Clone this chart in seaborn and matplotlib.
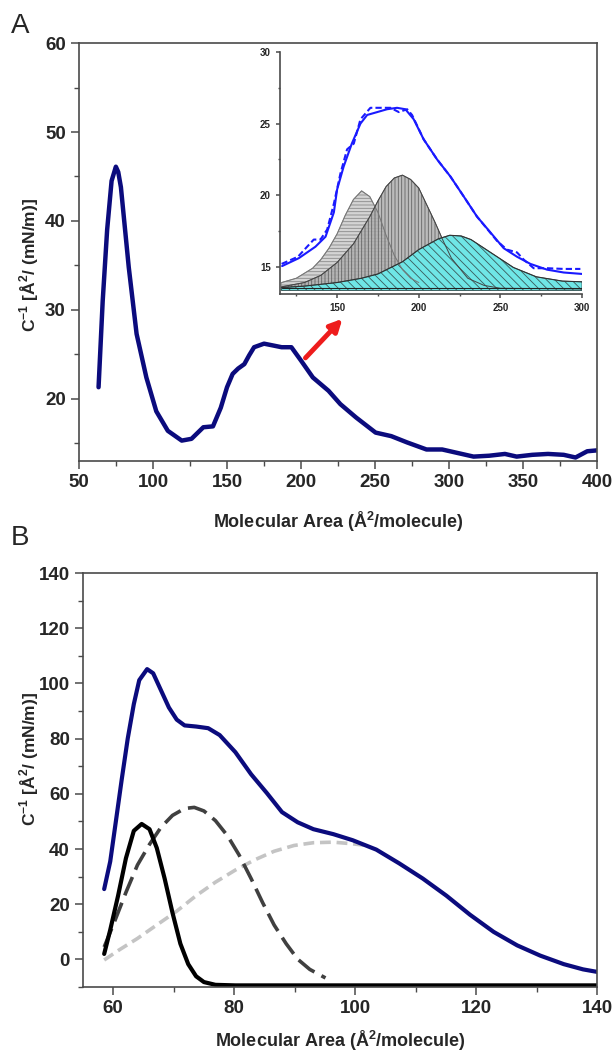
import matplotlib
matplotlib.use('Agg')
import matplotlib.pyplot as plt
from matplotlib.ticker import MultipleLocator
import seaborn as sns

sns.set_style('ticks')
plt.rcParams['font.family'] = ['Liberation Sans', 'DejaVu Sans']
plt.rcParams['mathtext.fontset'] = 'custom'
plt.rcParams['mathtext.rm'] = 'Liberation Sans'
plt.rcParams['mathtext.bf'] = 'Liberation Sans:bold'
plt.rcParams['hatch.linewidth'] = 0.6

# panel A - compressibility modulus vs area
area_a = [63.2, 66, 69, 72, 74.9, 76.5, 78.3, 83.6, 88.9, 95.5, 102.2, 110, 119.4, 126, 134,
          140.5, 145.8, 150, 153.8, 157.5, 161.7, 165, 168.3, 175, 181, 186.9, 193.5, 200,
          208, 218.6, 226.6, 237.2, 250.4, 261, 271.6, 284.8, 295.4, 306, 316.6, 327.2,
          337.8, 345.7, 356.3, 366.9, 377.5, 385.5, 393.4, 400]
cinv_a = [21.3, 31.0, 39.0, 44.5, 46.1, 45.5, 43.8, 34.8, 27.3, 22.4, 18.6, 16.4, 15.3, 15.5,
          16.8, 16.9, 19.0, 21.3, 22.8, 23.4, 23.9, 24.9, 25.8, 26.2, 26.0, 25.8, 25.8, 24.3,
          22.4, 20.9, 19.4, 17.9, 16.2, 15.8, 15.1, 14.3, 14.3, 13.9, 13.5, 13.6,
          13.8, 13.5, 13.7, 13.8, 13.7, 13.4, 14.1, 14.2]

# inset - deconvolution of the 150-300 region
fit_x = [116.3, 126.5, 136.7, 142.9, 148, 150, 154, 159, 164.3, 168.4, 174.5, 180.6, 186.7,
         191.8, 196.9, 203, 211.2, 219.4, 227.6, 235.7, 243.9, 252, 260.2, 268.4, 278.6,
         288.8, 300]
fit_y = [15.05, 15.6, 16.4, 17.1, 18.8, 20.4, 22.0, 23.6, 25.0, 25.6, 25.8, 26.0, 26.1,
         26.0, 25.3, 23.9, 22.5, 21.3, 19.9, 18.5, 17.4, 16.3, 15.7, 15.2, 14.8, 14.6, 14.5]
exp_x = [116, 126, 131.6, 135.7, 139.8, 143.9, 148, 152, 156.1, 160.2, 164.3, 170.4, 176.5,
         182.7, 187.8, 192.9, 195.9, 203, 211.2, 219.4, 227.6, 235.7, 248, 254, 260.2,
         264.3, 270.4, 278.6, 288.8, 299]
exp_y = [15.2, 15.7, 16.4, 16.9, 16.9, 17.6, 19.4, 21.5, 23.2, 23.6, 25.3, 26.1, 26.1,
         26.1, 25.8, 26.0, 25.6, 23.9, 22.5, 21.3, 19.9, 18.5, 16.8, 16.2, 16.0,
         15.5, 14.9, 14.9, 14.85, 14.85]
pk1_x = [116, 125, 135, 140, 145, 150, 155, 160, 165, 170, 175, 180, 185, 190, 195, 200]
pk1_y = [13.9, 14.2, 14.9, 15.5, 16.3, 17.3, 18.6, 19.7, 20.3, 19.9, 18.8, 17.2, 15.8,
         14.8, 14.2, 13.9]
pk2_x = [116, 130, 140, 150, 160, 170, 175, 180, 185, 190, 195, 200, 205, 210, 215, 220,
         230, 240, 250, 300]
pk2_y = [13.6, 13.9, 14.4, 15.3, 16.6, 18.5, 19.6, 20.6, 21.2, 21.4, 21.1, 20.5, 19.3,
         18.1, 16.8, 15.6, 14.2, 13.7, 13.5, 13.45]
pk3_x = [116, 130, 150, 165, 175, 190, 200, 212, 219, 226, 232, 244, 258, 272, 288, 300]
pk3_y = [13.55, 13.65, 13.9, 14.2, 14.5, 15.35, 16.2, 16.95, 17.2, 17.15, 16.9, 16.0,
         14.95, 14.3, 14.0, 13.95]
base_inset = 13.35

# panel B - fitted components
area_b = [58.5, 59.5, 60.45, 61.4, 62.4, 63.4, 64.3, 65.6, 66.6, 67.9, 69.2, 70.5, 71.8,
          73.7, 75.7, 77.6, 80.2, 82.8, 85.4, 87.9, 90.5, 93.1, 96.4, 99.6, 103.5, 107.3,
          111.2, 115.1, 119, 122.9, 126.8, 130.6, 134.5, 137.7, 140]
cinv_b = [25.5, 35.5, 50.3, 65.2, 80.1, 92.5, 101.2, 105.2, 103.7, 97.5, 91.3, 86.9, 84.8,
          84.4, 83.8, 81.3, 75.1, 67.1, 60.3, 53.4, 49.7, 47.2, 45.4, 43.2, 39.8, 34.8,
          29.3, 23.1, 16.2, 10.0, 5.1, 1.4, -1.7, -3.6, -4.5]
c1_x = [58.5, 59.5, 60.8, 62.1, 63.4, 64.7, 66, 67.2, 68.5, 69.8, 71.1, 72.4, 73.7, 75,
        76.9, 80.2, 100, 120, 140]
c1_y = [2.0, 10.7, 23.1, 36.7, 46.6, 49.1, 47.2, 40.4, 29.3, 16.9, 5.7, -1.7, -6.1, -8.2,
        -9.2, -9.4, -9.4, -9.4, -9.4]
c2_x = [58.5, 60.1, 62.1, 64, 66, 67.9, 69.8, 71.8, 73.4, 75, 76.9, 78.9, 80.8, 82.8,
        84.7, 86.6, 88.6, 90.5, 92.5, 95.1]
c2_y = [4.5, 13.1, 24.3, 34.2, 41.7, 47.9, 52.2, 54.7, 55.1, 53.8, 50.3, 44.8, 37.9, 29.3,
        20.6, 12.5, 5.7, 0.1, -3.6, -6.7]
c3_x = [58.5, 60.8, 64, 67.2, 70.5, 73.7, 76.9, 80.2, 83.4, 86.6, 89.9, 93.1, 96.4, 99.6,
        101.5]
c3_y = [-0.2, 3.2, 7.6, 12.5, 17.5, 23.1, 28.0, 32.4, 36.1, 39.2, 41.3, 42.3, 42.5, 41.9,
        41.4]

navy = '#0b0b7d'
spine_col = '#4a4a4a'
ylab = r'C$^{\mathbf{-1}}$ [Å$^{\mathbf{2}}$/ (mN/m)]'
xlab = r'Molecular Area (Å$^{\mathbf{2}}$/molecule)'

fig = plt.figure(figsize=(6.14, 10.56), dpi=100)
ax_a = fig.add_axes([0.1287, 0.5634, 0.8436, 0.3958])
ax_b = fig.add_axes([0.1352, 0.0653, 0.8371, 0.3920])
ax_in = fig.add_axes([0.456, 0.7216, 0.4919, 0.2292])


def style_axes(ax, size, tick_len):
    for s in ax.spines.values():
        s.set_color(spine_col)
        s.set_linewidth(1.2)
    ax.tick_params(which='major', direction='out', length=tick_len, width=1.1,
                   color=spine_col, labelsize=size, top=False, right=False)
    ax.tick_params(which='minor', direction='out', length=tick_len * 0.6, width=1.0,
                   color=spine_col, top=False, right=False)
    for lab in ax.get_xticklabels() + ax.get_yticklabels():
        lab.set_fontweight('bold')


# ---- panel A
sns.lineplot(x=area_a, y=cinv_a, ax=ax_a, color=navy, lw=3.2, sort=False)
ax_a.set_xlim(50, 400)
ax_a.set_ylim(13, 60)
ax_a.xaxis.set_major_locator(MultipleLocator(50))
ax_a.xaxis.set_minor_locator(MultipleLocator(25))
ax_a.yaxis.set_major_locator(MultipleLocator(10))
ax_a.yaxis.set_minor_locator(MultipleLocator(5))
ax_a.set_yticks([20, 30, 40, 50, 60])
style_axes(ax_a, 13.5, 6)
ax_a.set_xlabel(xlab, fontsize=13, fontweight='bold')
ax_a.set_ylabel(ylab, fontsize=12.5, fontweight='bold')
ax_a.xaxis.set_label_coords(0.5, -0.117)
ax_a.yaxis.set_label_coords(-0.074, 0.47)
ax_a.annotate('', xy=(228, 29.0), xytext=(203, 24.6),
              arrowprops=dict(arrowstyle='-|>', color='#ee1c1c', lw=3.5,
                              mutation_scale=18, shrinkA=0, shrinkB=0))

# ---- inset
ax_in.fill_between(pk1_x, base_inset, pk1_y, facecolor='#d4d4d4', edgecolor='#8a8a8a',
                   hatch='-----', lw=0.6)
ax_in.fill_between(pk2_x, base_inset, pk2_y, facecolor='#b0b0b0', edgecolor='#555555',
                   hatch='|||||', lw=0.6, alpha=0.85)
ax_in.fill_between(pk3_x, base_inset, pk3_y, facecolor='#6fe6e6', edgecolor='#3a5a5a',
                   hatch='\\\\\\\\', lw=0.6)
sns.lineplot(x=pk1_x, y=pk1_y, ax=ax_in, color='#777777', lw=0.7, sort=False)
sns.lineplot(x=pk2_x, y=pk2_y, ax=ax_in, color='#444444', lw=0.7, sort=False)
sns.lineplot(x=pk3_x, y=pk3_y, ax=ax_in, color='#333333', lw=0.8, sort=False)
sns.lineplot(x=[116, 300], y=[13.5, 13.5], ax=ax_in, color='#222222', lw=0.8)
sns.lineplot(x=exp_x, y=exp_y, ax=ax_in, color='#1a1aff', lw=1.5, linestyle=(0, (3, 1.5)),
             sort=False)
sns.lineplot(x=fit_x, y=fit_y, ax=ax_in, color='#1a1aff', lw=1.5, sort=False)
ax_in.set_xlim(115, 300)
ax_in.set_ylim(13.1, 30)
ax_in.xaxis.set_major_locator(MultipleLocator(50))
ax_in.xaxis.set_minor_locator(MultipleLocator(25))
ax_in.yaxis.set_major_locator(MultipleLocator(5))
ax_in.yaxis.set_minor_locator(MultipleLocator(2.5))
ax_in.set_xticks([150, 200, 250, 300])
ax_in.set_yticks([15, 20, 25, 30])
ax_in.spines['top'].set_visible(False)
ax_in.spines['right'].set_visible(False)
ax_in.patch.set_alpha(0)
style_axes(ax_in, 7, 3)

# ---- panel B
sns.lineplot(x=c3_x, y=c3_y, ax=ax_b, color='#c4c4c4', lw=2.6, linestyle=(0, (3, 1.6)),
             sort=False)
sns.lineplot(x=c2_x, y=c2_y, ax=ax_b, color='#404040', lw=2.6, linestyle=(0, (5.5, 2.2)),
             sort=False)
sns.lineplot(x=area_b, y=cinv_b, ax=ax_b, color=navy, lw=3.0, sort=False)
sns.lineplot(x=c1_x, y=c1_y, ax=ax_b, color='black', lw=3.0, sort=False)
ax_b.set_xlim(55, 140)
ax_b.set_ylim(-10, 140)
ax_b.xaxis.set_major_locator(MultipleLocator(20))
ax_b.xaxis.set_minor_locator(MultipleLocator(10))
ax_b.yaxis.set_major_locator(MultipleLocator(20))
ax_b.yaxis.set_minor_locator(MultipleLocator(10))
ax_b.set_xticks([60, 80, 100, 120, 140])
ax_b.set_yticks([0, 20, 40, 60, 80, 100, 120, 140])
style_axes(ax_b, 13.5, 6)
ax_b.set_xlabel(xlab, fontsize=13, fontweight='bold')
ax_b.set_ylabel(ylab, fontsize=12.5, fontweight='bold')
ax_b.xaxis.set_label_coords(0.5, -0.1)
ax_b.yaxis.set_label_coords(-0.082, 0.55)

fig.text(0.018, 0.975, 'A', fontsize=20, va='center', ha='left')
fig.text(0.018, 0.4905, 'B', fontsize=20, va='center', ha='left')

fig.savefig('out.png', dpi=100)
